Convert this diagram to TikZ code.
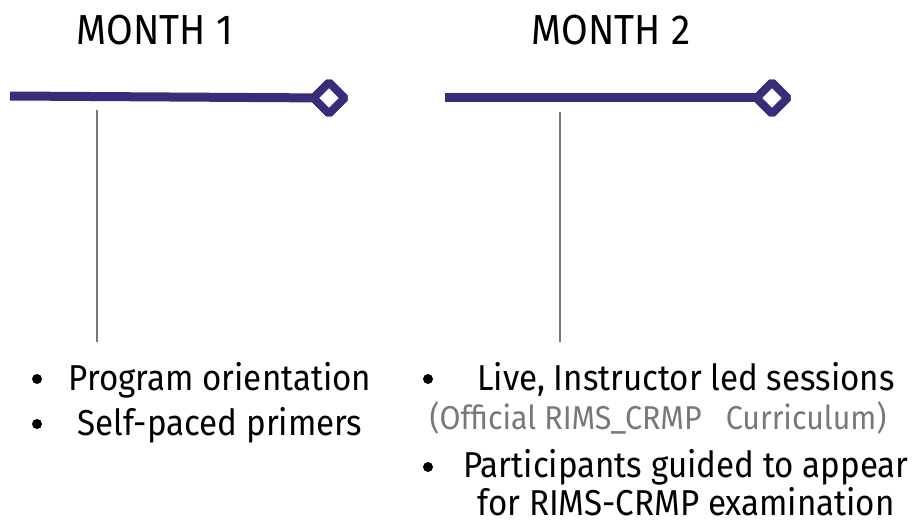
\documentclass[tikz,border=0pt]{standalone}
\usepackage{xcolor}
\usepackage{fontspec}
\setmainfont{Fira Sans}[FakeStretch=0.92]
\usepackage{tikz}
\definecolor{planpurple}{RGB}{58,44,122}
\definecolor{plangray}{RGB}{120,120,124}

\begin{document}
\begin{tikzpicture}[x=1pt, y=-1pt,
  month/.style={font=\fontsize{42}{48}\selectfont, anchor=base},
  bar/.style={planpurple, line width=9pt},
  milestone/.style={draw=planpurple, fill=white, line width=8pt, rotate=45, minimum size=22pt, inner sep=0pt, rounded corners=1.5pt},
  tick/.style={plangray, line width=1.3pt},
  item/.style={font=\fontsize{36}{42}\selectfont, anchor=base},
  note/.style={font=\fontsize{33}{38}\selectfont, anchor=base, text=plangray},
  dot/.style={circle, fill=black, inner sep=0pt, minimum size=10pt}]
\useasboundingbox (0,0) rectangle (912,524);

\node[month] (m1) at (155,45) {MONTH 1};
\node[month] (m2) at (611,45) {MONTH 2};

\coordinate (s1) at (10,96);
\coordinate (s2) at (445,98);
\node[milestone] (e1) at (329,98) {};
\node[milestone] (e2) at (772,98) {};
\draw[bar] (s1) -- (e1.center);
\draw[bar] (s2) -- (e2.center);
\node[milestone] at (e1) {};
\node[milestone] at (e2) {};

\coordinate (t1a) at (97,110);
\coordinate (t1b) at (97,342);
\coordinate (t2a) at (560,112);
\coordinate (t2b) at (560,342);
\draw[tick] (t1a) -- (t1b);
\draw[tick] (t2a) -- (t2b);

% month 1
\node[dot] (b1) at (37,379) {};
\node[dot] (b2) at (37,424) {};
\node[item] (i1) at (220,390) {Program orientation};
\node[item] (i2) at (220,435) {Self-paced primers};

% month 2
\node[dot] (b3) at (428,379) {};
\node[dot] (b4) at (428,467) {};
\node[item] (i3) at (686,390) {Live, Instructor led sessions};
\node[note] (n3) at (658,429) {(Official RIMS\_CRMP\ \ \ Curriculum)};
\node[item] (i4) at (686,477) {Participants guided to appear};
\node[item] (i5) at (686,515) {for RIMS-CRMP examination};
\end{tikzpicture}
\end{document}
